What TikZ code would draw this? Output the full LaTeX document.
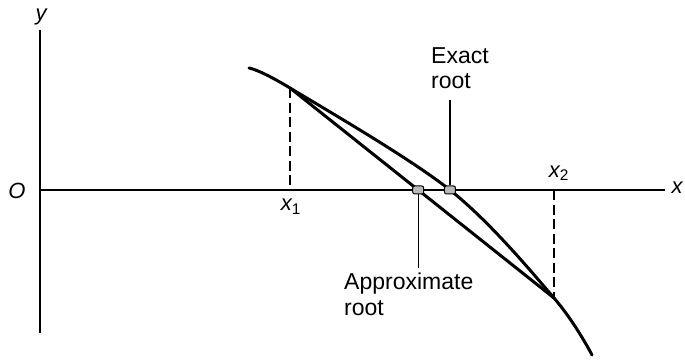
\documentclass[tikz,border=0pt]{standalone}
\usepackage{fontspec}
\setmainfont{Liberation Sans}
\usetikzlibrary{intersections}
\begin{document}
\begin{tikzpicture}[x=1pt,y=-1pt,
  axis/.style={line width=1.4pt},
  curveline/.style={line width=3pt, line cap=round},
  guide/.style={line width=1.1pt, dash pattern=on 10pt off 4.5pt},
  leader/.style={line width=1.1pt},
  rootmark/.style={draw=black, line width=1pt, fill=gray!55, rounded corners=2pt, minimum width=11pt, minimum height=8pt, inner sep=0pt},
  lab/.style={font=\fontsize{23}{25.5}\selectfont, inner sep=0pt},
  mlab/.style={font=\fontsize{22}{26}\selectfont\itshape, inner sep=0pt}]
\useasboundingbox (0,0) rectangle (685,359);
\coordinate (O) at (40,190);
\coordinate (ytop) at (40,30);
\coordinate (ybot) at (40,333);
\coordinate (xend) at (665,190);
\draw[axis] (ytop) -- (ybot);
\draw[axis] (O) -- (xend);
\path[name path=xaxis] (O) -- (xend);
\coordinate (P1) at (290,88);
\coordinate (P2) at (554,298);
\coordinate (X1) at (290,190);
\coordinate (X2) at (554,190);
\draw[curveline, name path=curve] plot[smooth, tension=0.55] coordinates {(249,68) (290,88) (450,190) (554,298) (592,355)};
\draw[curveline, name path=chord] (P1) -- (P2);
\draw[guide] (P1) -- (X1);
\draw[guide] (X2) -- (P2);
\path[name intersections={of=chord and xaxis, by=A}];
\path[name intersections={of=curve and xaxis, by=E}];
\node[rootmark] (am) at (A) {};
\node[rootmark] (em) at (E) {};
\node[lab, anchor=north west, align=left] (exact) at (431,47) {Exact\\root};
\node[lab, anchor=north west, align=left] (approx) at (344,273) {Approximate\\root};
\draw[leader, shorten >=11pt] (em.north) -- (em.north |- exact.south);
\draw[leader, shorten >=5pt] (am.south) -- (am.south |- approx.north);
\node[mlab] (ylab) at (41,17) {y};
\node[mlab] (olab) at (17,191) {O};
\node[mlab] (xlab) at (677,188) {x};
\node[mlab, anchor=north] (x1lab) at (291,199) {x\textsubscript{\upshape 1}};
\node[mlab, anchor=south] (x2lab) at (559,181) {x\textsubscript{\upshape 2}};
\end{tikzpicture}
\end{document}
